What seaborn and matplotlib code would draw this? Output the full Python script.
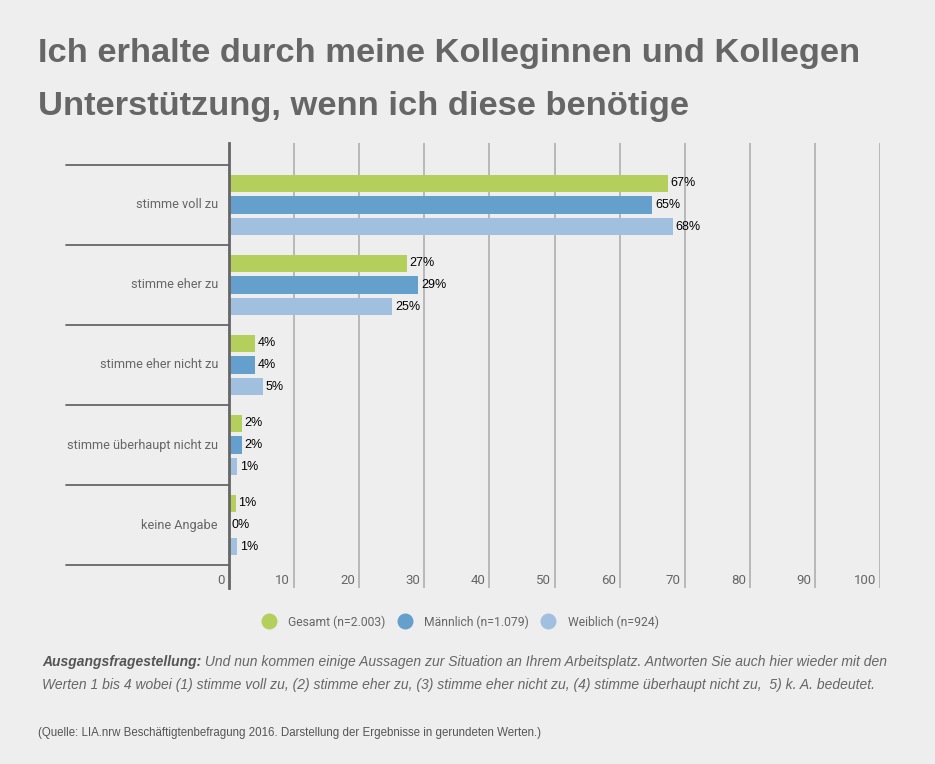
import matplotlib
matplotlib.use("Agg")
import matplotlib.pyplot as plt
import seaborn as sns
import pandas as pd
from matplotlib.lines import Line2D

categories = ["stimme voll zu", "stimme eher zu", "stimme eher nicht zu",
              "stimme überhaupt nicht zu", "keine Angabe"]
series = ["Gesamt (n=2.003)", "Männlich (n=1.079)", "Weiblich (n=924)"]
gesamt = [67.4, 27.3, 4.0, 2.0, 1.0]
maennlich = [65.0, 29.1, 4.0, 2.0, 0.0]
weiblich = [68.2, 25.1, 5.2, 1.2, 1.2]
labels_gesamt = ["67%", "27%", "4%", "2%", "1%"]
labels_maennlich = ["65%", "29%", "4%", "2%", "0%"]
labels_weiblich = ["68%", "25%", "5%", "1%", "1%"]
xticks = [0, 10, 20, 30, 40, 50, 60, 70, 80, 90, 100]
colors = ["#b5cf5c", "#659fcb", "#a1c0df"]

title = "Ich erhalte durch meine Kolleginnen und Kollegen\nUnterstützung, wenn ich diese benötige"
q_bold = "Ausgangsfragestellung:"
q_rest1 = " Und nun kommen einige Aussagen zur Situation an Ihrem Arbeitsplatz. Antworten Sie auch hier wieder mit den"
q_line2 = "Werten 1 bis 4 wobei (1) stimme voll zu, (2) stimme eher zu, (3) stimme eher nicht zu, (4) stimme überhaupt nicht zu,  5) k. A. bedeutet."
source = "(Quelle: LIA.nrw Beschäftigtenbefragung 2016. Darstellung der Ergebnisse in gerundeten Werten.)"

rows = []
for s, vals in zip(series, [gesamt, maennlich, weiblich]):
    for c, v in zip(categories, vals):
        rows.append({"cat": c, "series": s, "value": v})
df = pd.DataFrame(rows)

sns.set_theme(style="white")
plt.rcParams["font.family"] = ["Liberation Sans", "DejaVu Sans"]

BG = "#eeeeee"
fig = plt.figure(figsize=(9.35, 7.64), dpi=100, facecolor=BG)
W, H = 935, 764
ax = fig.add_axes([229 / W, 1 - 588 / H, (880 - 229) / W, (588 - 143) / H])
ax.set_facecolor(BG)

sns.barplot(data=df, y="cat", x="value", hue="series", order=categories,
            hue_order=series, palette=colors, orient="h", width=0.81,
            gap=0.21, saturation=1, legend=False, ax=ax, edgecolor="none")

ax.set_xlim(0, 100)
ax.set_ylim(4.5 + 23 / 80, -0.5 - 22 / 80)
ax.set_xlabel("")
ax.set_ylabel("")
ax.set_yticks([])
ax.set_xticks(xticks)
ax.set_xticklabels([])
ax.tick_params(axis="both", length=0)
for sp in ["top", "right", "bottom"]:
    ax.spines[sp].set_visible(False)
ax.spines["left"].set_color("#666666")
ax.spines["left"].set_linewidth(2)
ax.spines["left"].set_zorder(5)

for t in xticks[1:]:
    ax.axvline(t, color="#aaaaaa", lw=1.1, zorder=0)

xt = ax.get_xaxis_transform()
for t in xticks:
    ax.text(t - 0.6, (588 - 580) / 445, str(t), transform=xt,
            ha="right", va="center", fontsize=9.5, color="#666666",
            family=["Roboto", "DejaVu Sans"])

# category separators and labels
for i in range(len(categories) + 1):
    ax.plot([-25, 0], [i - 0.5, i - 0.5], color="#666666", lw=1.3,
            clip_on=False, zorder=4)
for i, c in enumerate(categories):
    ax.text(-1.7, i, c, ha="right", va="center", fontsize=9.2,
            color="#666666", family=["Roboto", "DejaVu Sans"])

for cont, labs in zip(ax.containers, [labels_gesamt, labels_maennlich, labels_weiblich]):
    ax.bar_label(cont, labels=labs, padding=2, fontsize=9, color="black")

# legend
handles = [Line2D([0], [0], marker="o", linestyle="none", markersize=11.5,
                  markerfacecolor=col, markeredgecolor="none") for col in colors]
fig.legend(handles, series, loc="center", bbox_to_anchor=(460 / W, 1 - 622 / H),
           ncol=3, frameon=False, labelcolor="#666666",
           handlelength=1.2, handletextpad=1.0, columnspacing=1.0,
           prop={"family": ["Roboto", "DejaVu Sans"], "size": 8.7})

# title
fig.text(38 / W, 1 - 62 / H, title.split("\n")[0], fontsize=24.8, fontweight="bold",
         color="#666666", ha="left", va="baseline")
fig.text(38 / W, 1 - 115 / H, title.split("\n")[1], fontsize=24.8, fontweight="bold",
         color="#666666", ha="left", va="baseline")

# question text
renderer = fig.canvas.get_renderer()
tb = fig.text(42 / W, 1 - 666 / H, q_bold, fontsize=10, fontweight="bold",
              fontstyle="italic", color="#555555", ha="left", va="baseline")
bb = tb.get_window_extent(renderer)
fig.text(bb.x1 / W, 1 - 666 / H, q_rest1, fontsize=10, fontstyle="italic",
         color="#666666", ha="left", va="baseline")
fig.text(42 / W, 1 - 689 / H, q_line2, fontsize=10, fontstyle="italic",
         color="#666666", ha="left", va="baseline")
fig.text(38 / W, 1 - 736 / H, source, fontsize=8.3, color="#555555",
         ha="left", va="baseline")

fig.savefig("out.png", dpi=100, facecolor=BG)
